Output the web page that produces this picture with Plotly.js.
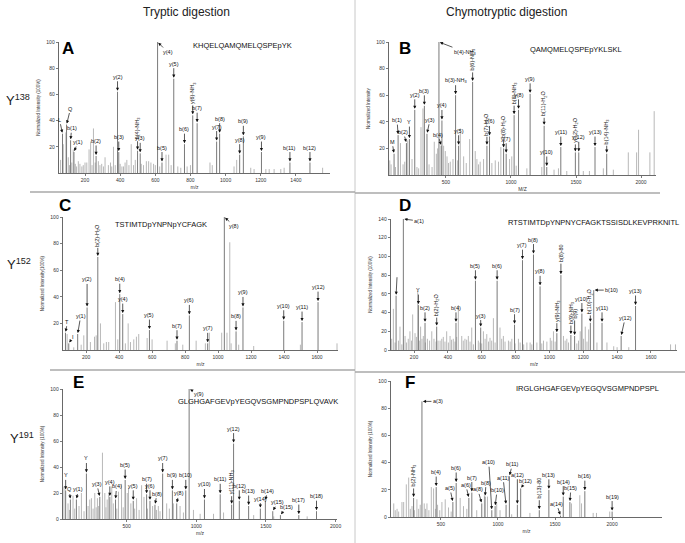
<!DOCTYPE html>
<html><head><meta charset="utf-8">
<script src="https://cdn.plot.ly/plotly-3.0.1.min.js"></script>
<style>html,body{margin:0;padding:0;background:#fff}#chart{width:685px;height:543px}</style>
</head><body><div id="chart"></div>
<script>
// ---------- Panel A : Y138 tryptic ----------
const A_seq = "KHQELQAMQMELQSPEpYK";
const A_mz  = [72, 95, 118, 137, 263, 385, 392, 499, 514, 613, 638, 705, 766, 813, 838, 949, 966, 1080, 1101, 1204, 1366, 1480];
const A_int = [30, 37, 25, 16, 13, 62, 16, 17, 15, 100, 8, 72, 22, 44, 38, 24, 30, 14, 28, 16, 8, 8];
const A_lab = ["L","Q","b(1)","y(1)","b(2)","y(2)","b(3)","b(4)-NH3","y(3)","y(4)","b(5)","y(5)","b(6)","y(6)-NH3","b(7)","y(7)","b(8)","y(8)","b(9)","y(9)","b(11)","b(12)"];
const A_bgMz  = [61, 76, 91, 105, 112, 125, 133, 145, 152, 162, 171, 182, 190, 200, 210, 223, 232, 240, 248, 258, 276, 285, 295, 305, 314, 333, 345, 352, 362, 372, 400, 410, 419, 428, 438, 450, 463, 476, 486, 520, 533, 549, 562, 575, 590, 600, 625, 661, 676, 690, 728, 745, 781, 800, 911, 924, 1048, 1063, 1143, 1162, 1229, 1248, 1276, 1314, 1333, 1552];
const A_bgInt = [10, 22, 31, 12, 6, 8, 18, 7, 5, 9, 7, 5, 6, 8, 8, 18, 24, 6, 34, 8, 9, 6, 7, 5, 12, 6, 8, 5, 20, 6, 7, 5, 5, 8, 10, 6, 22, 6, 10, 7, 6, 9, 9, 8, 7, 6, 5, 14, 14, 6, 5, 4, 5, 6, 8, 6, 5, 10, 4, 3, 3, 3, 3, 3, 4, 4];

// ---------- Panel B : Y138 chymotryptic ----------
const B_seq = "QAMQMELQSPEpYKLSKL";
const B_mz  = [101, 132, 196, 219, 260, 334, 354, 446, 463, 469, 574, 597, 705, 815, 835, 943, 963, 1024, 1058, 1147, 1255, 1275, 1383, 1495, 1521, 1646, 1736];
const B_int = [16, 30, 24, 27, 49, 52, 31, 100, 22, 41, 60, 22, 70, 22, 29, 20, 16, 45, 49, 61, 37, 6, 21, 17, 17, 21, 16];
const B_lab = ["M","b(1)","b(2)","Y","y(2)","b(3)","y(3)","b(4)-NH3","b(4)","y(4)","b(3)-NH3","y(5)","b(6)-NH3","b(7)-H2O","y(6)","b(8)-H2O","y(7)","b(8)-NH3","y(8)","y(9)","b(11)-H2O","y(10)","y(11)","y(12)-H2O","y(12)","y(13)","b(14)-NH3"];
const B_bgMz  = [68, 78, 112, 150, 170, 183, 206, 239, 277, 290, 308, 323, 370, 393, 410, 426, 436, 482, 495, 508, 520, 533, 554, 590, 610, 636, 656, 682, 725, 738, 750, 763, 789, 853, 879, 904, 922, 989, 1006, 1040, 1122, 1237, 1331, 1365, 1429, 1556, 1603, 1710, 1787, 1902, 1966, 1981, 2068, 2101];
const B_bgInt = [11, 8, 6, 24, 8, 10, 26, 12, 6, 5, 36, 50, 8, 6, 25, 16, 20, 22, 18, 14, 9, 10, 12, 11, 35, 14, 9, 27, 18, 12, 8, 10, 12, 9, 11, 10, 21, 12, 14, 7, 5, 6, 4, 5, 3, 3, 3, 5, 4, 17, 17, 34, 17, 48];

// ---------- Panel C : Y152 tryptic ----------
const C_seq = "TSTIMTDpYNPNpYCFAGK";
const C_mz  = [75, 95, 149, 206, 271, 404, 422, 584, 751, 826, 937, 1038, 1109, 1151, 1398, 1509, 1606];
const C_int = [13, 5, 12, 32, 70, 42, 27, 15, 7, 26, 5, 100, 14, 32, 22, 21, 36];
const C_lab = ["T","I","y(1)","y(2)","b(2)-H2O","b(4)","y(4)","y(5)","b(7)","y(6)","y(7)","y(8)","b(8)","y(9)","y(10)","y(11)","y(12)"];
const C_bgMz  = [85, 125, 170, 186, 226, 251, 261, 287, 307, 323, 337, 378, 392, 438, 455, 469, 489, 505, 519, 570, 600, 691, 741, 786, 867, 923, 947, 1022, 1054, 1071, 1079, 1125, 1216, 1499, 1721];
const C_bgInt = [12, 2, 4, 11, 6, 10, 11, 20, 5, 6, 6, 36, 8, 5, 20, 6, 8, 10, 12, 9, 8, 7, 5, 4, 7, 5, 13, 13, 13, 81, 5, 4, 3, 4, 5];

// ---------- Panel D : Y152 chymotryptic ----------
const D_seq = "RTSTIMTDpYNPNYCFAGKTSSISDLKEVPRKNITL";
const D_mz  = [94, 137, 226, 265, 334, 448, 563, 594, 691, 794, 841, 906, 945, 1044, 1068, 1127, 1149, 1192, 1242, 1262, 1311, 1424, 1509];
const D_int = [58, 140, 48, 29, 25, 29, 74, 24, 74, 27, 96, 102, 68, 18, 80, 16, 15, 39, 29, 64, 29, 15, 47];
const D_lab = ["","a(1)","Y","b(2)","b(2)-H2O","b(4)","b(5)","y(3)","b(6)","b(7)","y(7)","b(8)","y(8)","y(9)-NH3","b(8)-80","b(9)-NH3","b(9)","y(10)","b(10)-H2O","b(10)","y(11)","y(12)","y(13)"];
const D_bgMz  = [68, 78, 88, 108, 117, 128, 147, 156, 166, 176, 185, 192, 206, 214, 222, 231, 239, 247, 255, 267, 279, 292, 305, 318, 330, 342, 354, 364, 373, 383, 393, 403, 413, 422, 432, 442, 452, 462, 482, 491, 501, 511, 521, 531, 541, 551, 580, 590, 600, 610, 620, 630, 640, 649, 659, 669, 679, 708, 718, 728, 738, 758, 768, 778, 797, 817, 827, 848, 867, 886, 896, 926, 955, 965, 985, 1005, 1014, 1024, 1034, 1083, 1093, 1103, 1113, 1162, 1172, 1182, 1202, 1212, 1222, 1232, 1281, 1340, 1380, 1400, 1469, 1716, 1745];
const D_bgInt = [12, 44, 8, 10, 25, 6, 15, 8, 12, 20, 10, 38, 18, 14, 63, 10, 25, 12, 15, 8, 12, 10, 20, 12, 9, 10, 10, 12, 14, 9, 20, 8, 15, 11, 12, 9, 14, 48, 15, 10, 12, 11, 15, 9, 24, 6, 10, 8, 7, 20, 12, 17, 9, 13, 10, 34, 8, 24, 12, 15, 9, 10, 9, 12, 7, 12, 8, 6, 8, 8, 6, 8, 7, 10, 9, 13, 10, 20, 9, 15, 10, 12, 8, 7, 10, 20, 12, 25, 9, 22, 8, 8, 4, 3, 3, 6, 6];

// ---------- Panel E : Y191 tryptic ----------
const E_seq = "GLGHGAFGEVpYEGQVSGMPNDPSPLQVAVK";
const E_mz  = [63, 97, 140, 212, 308, 380, 421, 490, 548, 644, 668, 704, 759, 829, 860, 925, 949, 1059, 1172, 1254, 1268, 1309, 1376, 1460, 1496, 1549, 1604, 1736, 1863];
const E_int = [22, 15, 15, 35, 17, 17, 15, 30, 14, 19, 14, 11, 35, 22, 12, 22, 100, 15, 19, 11, 58, 14, 10, 8, 14, 6, 3, 3, 6];
const E_lab = ["Y","Q","y(1)","Y","y(3)","y(4)","b(4)","b(5)","y(5)","b(7)","y(6)","b(8)","y(7)","b(9)","y(8)","b(10)","y(9)","y(10)","b(11)","y(11)-NH3","y(12)","b(12)","b(13)","y(14)","b(14)","y(15)","b(15)","b(17)","b(18)"];
const E_bgMz  = [51, 80, 90, 116, 128, 159, 176, 195, 224, 236, 248, 260, 272, 282, 291, 300, 327, 344, 352, 361, 372, 394, 405, 430, 442, 464, 476, 505, 514, 531, 558, 572, 590, 608, 625, 650, 687, 715, 728, 740, 788, 807, 836, 884, 908, 980, 1028, 1124, 1196, 1412, 1556, 1796];
const E_bgInt = [25, 12, 7, 18, 8, 10, 20, 6, 10, 15, 16, 8, 20, 9, 16, 10, 51, 20, 9, 15, 19, 25, 12, 8, 21, 27, 9, 20, 24, 12, 8, 16, 7, 26, 17, 8, 10, 7, 10, 6, 12, 8, 12, 10, 5, 7, 4, 4, 5, 3, 2, 2];

// ---------- Panel F : Y191 chymotryptic ----------
const F_seq = "IRGLGHGAFGEVpYEGQVSGMPNDPSPL";
const F_mz  = [261, 334, 459, 605, 634, 745, 771, 858, 887, 946, 975, 1071, 1100, 1170, 1199, 1362, 1446, 1548, 1572, 1630, 1761, 2000];
const F_int = [14, 85, 22, 11, 25, 14, 18, 10, 15, 5, 8, 9, 30, 9, 21, 5, 20, 1, 15, 11, 19, 4];
const F_lab = ["b(2)-NH3","a(3)","b(4)","a(5)","b(6)","a(6)","b(7)","a(8)","b(8)","a(10)","b(10)","a(11)","b(11)","a(12)","b(12)","b(13)-80","b(13)","a(14)","b(14)","b(15)","b(16)","b(19)"];
const F_bgMz  = [87, 100, 116, 130, 159, 174, 197, 218, 232, 247, 268, 290, 305, 319, 354, 366, 378, 395, 416, 436, 452, 471, 490, 509, 538, 567, 590, 669, 698, 727, 814, 881, 908, 989, 1018, 1120, 1280, 1644, 1717, 1732, 1834, 1863, 1979];
const F_bgInt = [10, 5, 6, 4, 11, 11, 24, 29, 6, 8, 5, 13, 6, 9, 10, 6, 10, 5, 22, 21, 6, 9, 5, 11, 13, 7, 4, 14, 8, 6, 5, 16, 15, 10, 5, 2, 3, 10, 16, 10, 3, 3, 4];

const rowLabels = ["Y<sup>138</sup>", "Y<sup>152</sup>", "Y<sup>191</sup>"];
const colTitles = ["Tryptic digestion", "Chymotryptic digestion"];

// ---------- layout helpers (styles/positions) ----------
const W = 685, H = 543;
const FONT = "Liberation Sans, Arial, sans-serif";
const panels = [
  {k:"A", mz:A_mz, it:A_int, lab:A_lab, bm:A_bgMz, bi:A_bgInt, seq:A_seq, px:[59,330], py:[42,173], xr:[52,1594], yr:[0,100], xt:[200,400,600,800,1000,1200,1400], yt:[20,40,60,80,100], xtitle:"m/z", ytitle:"Normalized Intensity (100%)", seqPos:[243,45], letter:[68,49]},
  {k:"B", mz:B_mz, it:B_int, lab:B_lab, bm:B_bgMz, bi:B_bgInt, seq:B_seq, px:[389,656], py:[42,175], xr:[62,2115], yr:[0,100], xt:[500,1000,1500,2000], yt:[20,40,60,80,100], xtitle:"M/Z", ytitle:"Normalized Intensity", seqPos:[576,50], letter:[405,49]},
  {k:"C", mz:C_mz, it:C_int, lab:C_lab, bm:C_bgMz, bi:C_bgInt, seq:C_seq, px:[63,338], py:[217,350], xr:[60,1727], yr:[0,100], xt:[200,400,600,800,1000,1200,1400,1600], yt:[20,40,60,80,100], xtitle:"m/z", ytitle:"Normalized Intensity(100%)", seqPos:[161,225], letter:[65,205]},
  {k:"D", mz:D_mz, it:D_int, lab:D_lab, bm:D_bgMz, bi:D_bgInt, seq:D_seq, px:[391,677], py:[219,350], xr:[64,1754], yr:[0,140], xt:[200,400,600,800,1000,1200,1400,1600], yt:[0,20,40,60,80,100,120,140], xtitle:"m/z", ytitle:"Normalized Intensity (100%)", seqPos:[593,222], letter:[405,205]},
  {k:"E", mz:E_mz, it:E_int, lab:E_lab, bm:E_bgMz, bi:E_bgInt, seq:E_seq, px:[63,337], py:[389,519], xr:[44,2010], yr:[0,100], xt:[500,1000,1500,2000], yt:[0,20,40,60,80,100], xtitle:"m/z", ytitle:"Normalized Intensity (100%)", seqPos:[258,401], letter:[78,382]},
  {k:"F", mz:F_mz, it:F_int, lab:F_lab, bm:F_bgMz, bi:F_bgInt, seq:F_seq, px:[391,662], py:[381,517], xr:[63,2437], yr:[0,100], xt:[500,1000,1500,2000], yt:[0,20,40,60,80,100], xtitle:"m/z", ytitle:"Normalized Intensity (100%)", seqPos:[587,389], letter:[410,382]}
];
const special = {
  "A:y(4)":{ax:10, ay:10}, "B:b(4)-NH3":{ax:26, ay:10}, "C:y(8)":{ax:10, ay:9},
  "D:a(1)":{ax:16, ay:2}, "D:b(10)":{ax:18, ay:0}, "E:y(9)":{ax:10, ay:5}, "F:a(3)":{ax:16, ay:0},
  "A:L":{ax:-3, ay:-14}, "A:Q":{ax:4, ay:-16}, "A:b(1)":{ax:1, ay:-12}, "A:y(1)":{ax:4, ay:-10},
  "B:M":{ax:-2, ay:-12}, "B:b(1)":{ax:-1, ay:-15}, "B:b(2)":{ax:-3, ay:-11}, "B:Y":{ax:0, ay:-17}, "B:y(3)":{ax:3, ay:-14}, "B:b(4)":{ax:-3, ay:-11},
  "C:T":{ax:2, ay:-11}, "C:I":{ax:4, ay:-6}, "C:y(1)":{ax:3, ay:-18}, "C:y(2)":{ax:0, ay:-28},
  "D:":{ax:1, ay:-20}, "D:y(3)":{ax:0, ay:-12}, "D:y(12)":{ax:4, ay:-18},
  "E:Q":{ax:-1, ay:-10}, "E:y(1)":{ax:2, ay:-10}, "E:y(3)":{ax:-3, ay:-13}, "E:b(4)":{ax:1, ay:-13}, "E:b(8)":{ax:2, ay:-11}, "E:y(8)":{ax:2, ay:-10},
  "E:y(14)":{ax:0, ay:-10}, "E:b(14)":{ax:2, ay:-10}, "E:y(15)":{ax:5, ay:-9}, "E:b(15)":{ax:6, ay:-8},
  "F:a(10)":{ax:-3, ay:-48}, "F:b(10)":{ax:2, ay:-16}, "F:a(11)":{ax:-3, ay:-27}, "F:b(11)":{ax:3, ay:-12}, "F:a(12)":{ax:0, ay:-30}, "F:b(12)":{ax:5, ay:-7},
  "F:a(8)":{ax:-4, ay:-14}, "F:b(8)":{ax:1, ay:-14}, "F:a(5)":{ax:-3, ay:-14}, "F:a(6)":{ax:-3, ay:-13}, "F:a(14)":{ax:-4, ay:-12}, "F:b(15)":{ax:1, ay:-14}
};
const rotated = new Set(["A:b(4)-NH3","A:y(6)-NH3","B:b(6)-NH3","B:b(7)-H2O","B:b(8)-H2O","B:b(8)-NH3","B:b(11)-H2O","B:y(12)-H2O","B:b(14)-NH3","C:b(2)-H2O","D:b(2)-H2O","D:y(9)-NH3","D:b(8)-80","D:b(9)-NH3","D:b(9)","D:b(10)-H2O","E:y(11)-NH3","F:b(2)-NH3","F:b(13)-80"]);
function fmt(t){ return t.replace("NH3","NH<sub>3</sub>").replace("H2O","H<sub>2</sub>O"); }
function stems(mz, it){ const x=[], y=[]; mz.forEach((m,i)=>{ x.push(m,m,null); y.push(0,it[i],null); }); return {x,y}; }

const data = [], annotations = [], layout = {
  width: W, height: H, margin:{l:0,r:0,t:0,b:0}, showlegend:false,
  paper_bgcolor:"#fff", plot_bgcolor:"rgba(0,0,0,0)", font:{family:FONT, color:"#222"},
  shapes: [
    {type:"line", xref:"paper", yref:"paper", x0:355/W, x1:355/W, y0:0, y1:1, line:{color:"#c8c8c8", width:1}},
    {type:"line", xref:"paper", yref:"paper", x0:30/W, x1:355/W, y0:1-192/H, y1:1-192/H, line:{color:"#a8a8a8", width:1.5}},
    {type:"line", xref:"paper", yref:"paper", x0:355/W, x1:660/W, y0:1-193/H, y1:1-193/H, line:{color:"#a8a8a8", width:1.5}},
    {type:"line", xref:"paper", yref:"paper", x0:50/W, x1:355/W, y0:1-370/H, y1:1-370/H, line:{color:"#a8a8a8", width:1.5}},
    {type:"line", xref:"paper", yref:"paper", x0:355/W, x1:1, y0:1-372/H, y1:1-372/H, line:{color:"#a8a8a8", width:1.5}}
  ],
  annotations
};

panels.forEach((p, n) => {
  const s = n===0 ? "" : String(n+1);
  const xa = "x"+s, ya = "y"+s;
  const bg = stems(p.bm, p.bi), pk = stems(p.mz, p.it);
  data.push({type:"scatter", mode:"lines", x:bg.x, y:bg.y, xaxis:xa, yaxis:ya, line:{color:"#b8b8b8", width:1}, hoverinfo:"skip", cliponaxis:false});
  data.push({type:"scatter", mode:"lines", x:pk.x, y:pk.y, xaxis:xa, yaxis:ya, line:{color:"#7a7a7a", width:1}, hoverinfo:"skip", cliponaxis:false});
  layout["xaxis"+s] = {domain:[p.px[0]/W, p.px[1]/W], range:p.xr, anchor:ya, showline:true, linecolor:"#444", linewidth:0.8,
    ticks:"outside", ticklen:2.5, tickwidth:0.7, tickcolor:"#444", tickvals:p.xt, tickfont:{size:5, color:"#333"},
    showgrid:false, zeroline:false, title:{text:p.xtitle, font:{size:5, color:"#333"}, standoff:3}};
  layout["yaxis"+s] = {domain:[1-p.py[1]/H, 1-p.py[0]/H], range:p.yr, anchor:xa, showline:true, linecolor:"#444", linewidth:0.8,
    ticks:"outside", ticklen:2.5, tickwidth:0.7, tickcolor:"#444", tickvals:p.yt, tickfont:{size:5, color:"#333"},
    showgrid:false, zeroline:false, title:{text:p.ytitle, font:{size:4.5, color:"#333"}, standoff:5}};
  p.lab.forEach((t,i) => {
    const key = p.k+":"+t;
    const rot = rotated.has(key);
    const st = Object.assign({ax:0, ay:rot?-22:-15}, special[key]||{});
    annotations.push({x:p.mz[i], y:p.it[i], xref:xa, yref:ya, text:fmt(t), showarrow:true,
      arrowhead:2, arrowsize:0.9, arrowwidth:0.7, arrowcolor:"#111", standoff:1,
      ax:st.ax, ay:st.ay, textangle:rot?-90:0, font:{size:5.5, color:"#111", family:FONT}});
  });
  annotations.push({xref:"paper", yref:"paper", x:p.seqPos[0]/W, y:1-p.seqPos[1]/H, text:p.seq, showarrow:false,
    font:{size:7.5, color:"#111", family:FONT}, xanchor:"center", yanchor:"middle"});
  annotations.push({xref:"paper", yref:"paper", x:p.letter[0]/W, y:1-p.letter[1]/H, text:"<b>"+p.k+"</b>", showarrow:false,
    font:{size:17, color:"#000", family:FONT}, xanchor:"center", yanchor:"middle"});
});

annotations.push({xref:"paper", yref:"paper", x:186/W, y:1-12/H, text:colTitles[0], showarrow:false, xanchor:"center", yanchor:"middle", font:{size:12, color:"#222", family:FONT}});
annotations.push({xref:"paper", yref:"paper", x:506/W, y:1-12/H, text:colTitles[1], showarrow:false, xanchor:"center", yanchor:"middle", font:{size:12, color:"#222", family:FONT}});
[[18,100],[19,264],[22,438]].forEach((pos,i)=>{
  annotations.push({xref:"paper", yref:"paper", x:pos[0]/W, y:1-pos[1]/H, text:rowLabels[i], showarrow:false, xanchor:"center", yanchor:"middle", font:{size:13, color:"#222", family:FONT}});
});

Plotly.newPlot("chart", data, layout, {staticPlot:true, displayModeBar:false});
</script></body></html>
